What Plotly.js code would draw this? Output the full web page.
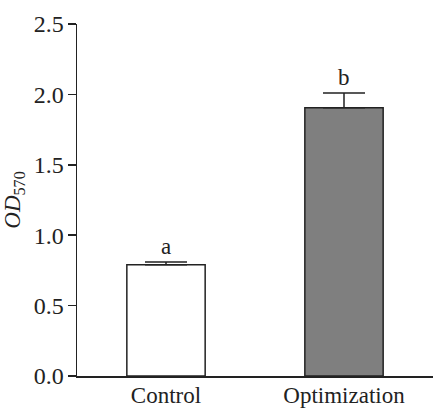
<!DOCTYPE html>
<html>
<head>
<meta charset="utf-8">
<script src="https://cdn.plot.ly/plotly-3.0.1.min.js"></script>
<style>
html,body{margin:0;padding:0;background:#fff;}
#chart{width:433px;height:408px;}
</style>
</head>
<body>
<div id="chart"></div>
<script>
var categories = ['Control', 'Optimization'];
var means = [0.79, 1.905];
var errors = [0.02, 0.105];
var letters = ['a', 'b'];
var barColors = ['#ffffff', '#7f7f7f'];
var yTicks = [0, 0.5, 1.0, 1.5, 2.0, 2.5];
var yTickLabels = ['0.0', '0.5', '1.0', '1.5', '2.0', '2.5'];

var FONT = '"Liberation Serif", "Times New Roman", serif';

var trace = {
  type: 'bar',
  x: categories,
  y: means,
  width: 0.44,
  marker: {color: barColors, line: {color: '#222', width: 1.5}},
  error_y: {
    type: 'data', symmetric: false, array: errors,
    arrayminus: errors.map(function(){return 0;}),
    color: '#222', thickness: 1.5, width: 21, visible: true
  },
  hoverinfo: 'none'
};

var annotations = categories.map(function(c, i) {
  return {
    x: c, y: means[i] + errors[i], xref: 'x', yref: 'y',
    text: letters[i], showarrow: false, yanchor: 'bottom', yshift: 1,
    font: {family: FONT, size: 23, color: '#222'}
  };
});

var layout = {
  width: 433, height: 408,
  margin: {l: 77, r: 0, t: 24, b: 32, pad: 0},
  paper_bgcolor: '#fff', plot_bgcolor: '#fff',
  showlegend: false,
  font: {family: FONT, size: 23, color: '#222'},
  xaxis: {
    type: 'category', range: [-0.5, 1.5],
    showline: true, linecolor: '#222', linewidth: 1.5,
    ticks: '', showgrid: false, zeroline: false,
    ticklabelstandoff: -2,
    tickfont: {family: FONT, size: 23, color: '#222'}
  },
  yaxis: {
    range: [0, 2.5], tickvals: yTicks, ticktext: yTickLabels,
    showline: true, linecolor: '#222', linewidth: 1.5,
    ticks: 'outside', ticklen: 8, tickwidth: 1.5, tickcolor: '#222',
    ticklabelstandoff: -1,
    showgrid: false, zeroline: false,
    tickfont: {family: FONT, size: 24, color: '#222'},
    title: {text: '<i>OD</i><sub>570</sub>', font: {family: FONT, size: 23, color: '#222'}, standoff: 6}
  },
  annotations: annotations
};

Plotly.newPlot('chart', [trace], layout, {displayModeBar: false, staticPlot: true});
</script>
</body>
</html>
